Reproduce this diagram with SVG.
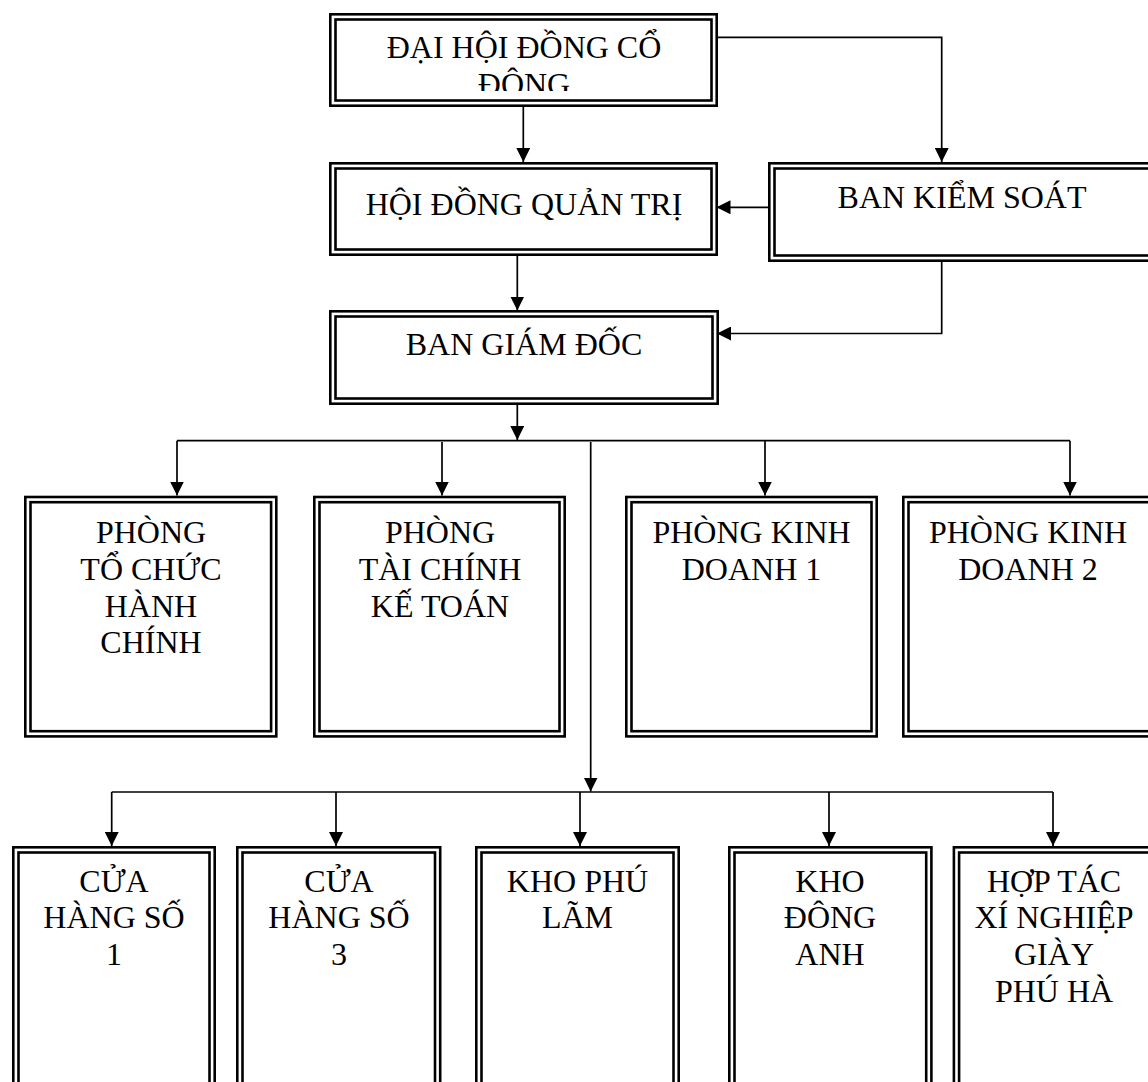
<svg xmlns="http://www.w3.org/2000/svg" width="1148" height="1082" viewBox="0 0 1148 1082">
<style>
.o{fill:#fff;stroke:#000;stroke-width:2.6}
.i{fill:none;stroke:#000;stroke-width:2.6}
.t{font-family:"Liberation Serif","Times New Roman",serif;font-size:32px;fill:#000;text-anchor:middle}
.c{fill:none;stroke:#000;stroke-width:1.7}
</style>
<defs>
<marker id="ah" markerUnits="userSpaceOnUse" markerWidth="14" markerHeight="14" refX="14" refY="7" orient="auto">
<path d="M0,0 L14,7 L0,14 z" fill="#000"/>
</marker>
<clipPath id="clip1"><rect x="329" y="13" width="389" height="78"/></clipPath>
</defs>
<rect width="1148" height="1082" fill="#fff"/>

<g id="connectors">
<path class="c" d="M716.5,37.3 H941.7 V162" marker-end="url(#ah)"/>
<path class="c" d="M523.3,107 V162" marker-end="url(#ah)"/>
<path class="c" d="M517.3,256 V310.5" marker-end="url(#ah)"/>
<path class="c" d="M771.5,207.3 H716.5" marker-end="url(#ah)"/>
<path class="c" d="M941.7,228 V333.5 H717" marker-end="url(#ah)"/>
<path class="c" d="M517.3,405 V440" marker-end="url(#ah)"/>
<path class="c" d="M177,440.7 H1070"/>
<path class="c" d="M177,440.7 V495.5" marker-end="url(#ah)"/>
<path class="c" d="M442,442 V495.5" marker-end="url(#ah)"/>
<path class="c" d="M765,440.7 V495.5" marker-end="url(#ah)"/>
<path class="c" d="M1070,440.7 V495.5" marker-end="url(#ah)"/>
<path class="c" d="M590.7,442 V791.5" marker-end="url(#ah)"/>
<path class="c" d="M111.7,792 H1053"/>
<path class="c" d="M111.7,792 V846" marker-end="url(#ah)"/>
<path class="c" d="M336,792 V846" marker-end="url(#ah)"/>
<path class="c" d="M580,792 V846" marker-end="url(#ah)"/>
<path class="c" d="M829,792 V846" marker-end="url(#ah)"/>
<path class="c" d="M1053,792 V846" marker-end="url(#ah)"/>
</g>

<g id="n-dhdcd">
<rect class="o" x="330.3" y="14.3" width="386.4" height="91.4"/>
<rect class="i" x="335.5" y="19.5" width="376" height="81"/>
<g clip-path="url(#clip1)">
<text class="t" x="524" y="58">ĐẠI HỘI ĐỒNG CỔ</text>
<text class="t" x="524" y="95">ĐÔNG</text>
</g>
</g>

<g id="n-hdqt">
<rect class="o" x="330.3" y="163.3" width="386.4" height="91.4"/>
<rect class="i" x="335.5" y="168.5" width="376" height="81"/>
<text class="t" x="524" y="215">HỘI ĐỒNG QUẢN TRỊ</text>
</g>

<g id="n-bks">
<rect class="o" x="769.3" y="163.3" width="400" height="97.4"/>
<rect class="i" x="774.5" y="168.5" width="390" height="87"/>
<text class="t" x="962" y="208">BAN KIỂM SOÁT</text>
</g>

<g id="n-bgd">
<rect class="o" x="330.3" y="311.3" width="387.4" height="92.4"/>
<rect class="i" x="335.5" y="316.5" width="377" height="82"/>
<text class="t" x="524" y="355">BAN GIÁM ĐỐC</text>
</g>

<g id="n-tchc">
<rect class="o" x="25.3" y="497" width="251" height="239.4"/>
<rect class="i" x="30.5" y="502.2" width="240.6" height="229"/>
<text class="t" x="151" y="543">PHÒNG</text>
<text class="t" x="151" y="580">TỔ CHỨC</text>
<text class="t" x="151" y="616.5">HÀNH</text>
<text class="t" x="151" y="653">CHÍNH</text>
</g>

<g id="n-tckt">
<rect class="o" x="314.3" y="497" width="250.4" height="239.4"/>
<rect class="i" x="319.5" y="502.2" width="240" height="229"/>
<text class="t" x="440" y="543">PHÒNG</text>
<text class="t" x="440" y="580">TÀI CHÍNH</text>
<text class="t" x="440" y="616.5">KẾ TOÁN</text>
</g>

<g id="n-kd1">
<rect class="o" x="626.3" y="497" width="250.4" height="239.4"/>
<rect class="i" x="631.5" y="502.2" width="240" height="229"/>
<text class="t" x="751.5" y="543">PHÒNG KINH</text>
<text class="t" x="751.5" y="580">DOANH 1</text>
</g>

<g id="n-kd2">
<rect class="o" x="903.3" y="497" width="260" height="239.4"/>
<rect class="i" x="908.5" y="502.2" width="250" height="229"/>
<text class="t" x="1028" y="543">PHÒNG KINH</text>
<text class="t" x="1028" y="580">DOANH 2</text>
</g>

<g id="n-ch1">
<rect class="o" x="13.3" y="847.3" width="201.4" height="260"/>
<rect class="i" x="18.5" y="852.5" width="191" height="250"/>
<text class="t" x="114" y="891.5">CỬA</text>
<text class="t" x="114" y="928">HÀNG SỐ</text>
<text class="t" x="114" y="965">1</text>
</g>

<g id="n-ch3">
<rect class="o" x="237.3" y="847.3" width="202.9" height="260"/>
<rect class="i" x="242.5" y="852.5" width="192.5" height="250"/>
<text class="t" x="339" y="891.5">CỬA</text>
<text class="t" x="339" y="928">HÀNG SỐ</text>
<text class="t" x="339" y="965">3</text>
</g>

<g id="n-kpl">
<rect class="o" x="476.3" y="847.3" width="202.4" height="260"/>
<rect class="i" x="481.5" y="852.5" width="192" height="250"/>
<text class="t" x="577.5" y="891.5">KHO PHÚ</text>
<text class="t" x="577.5" y="928">LÃM</text>
</g>

<g id="n-kda">
<rect class="o" x="729.3" y="847.3" width="202.1" height="260"/>
<rect class="i" x="734.5" y="852.5" width="191.7" height="250"/>
<text class="t" x="830" y="891.5">KHO</text>
<text class="t" x="830" y="928">ĐÔNG</text>
<text class="t" x="830" y="965">ANH</text>
</g>

<g id="n-htx">
<rect class="o" x="953.9" y="847.3" width="220" height="260"/>
<rect class="i" x="959.1" y="852.5" width="210" height="250"/>
<text class="t" x="1054" y="891.5">HỢP TÁC</text>
<text class="t" x="1054" y="928">XÍ NGHIỆP</text>
<text class="t" x="1054" y="965">GIÀY</text>
<text class="t" x="1054" y="1001.5">PHÚ HÀ</text>
</g>
</svg>
